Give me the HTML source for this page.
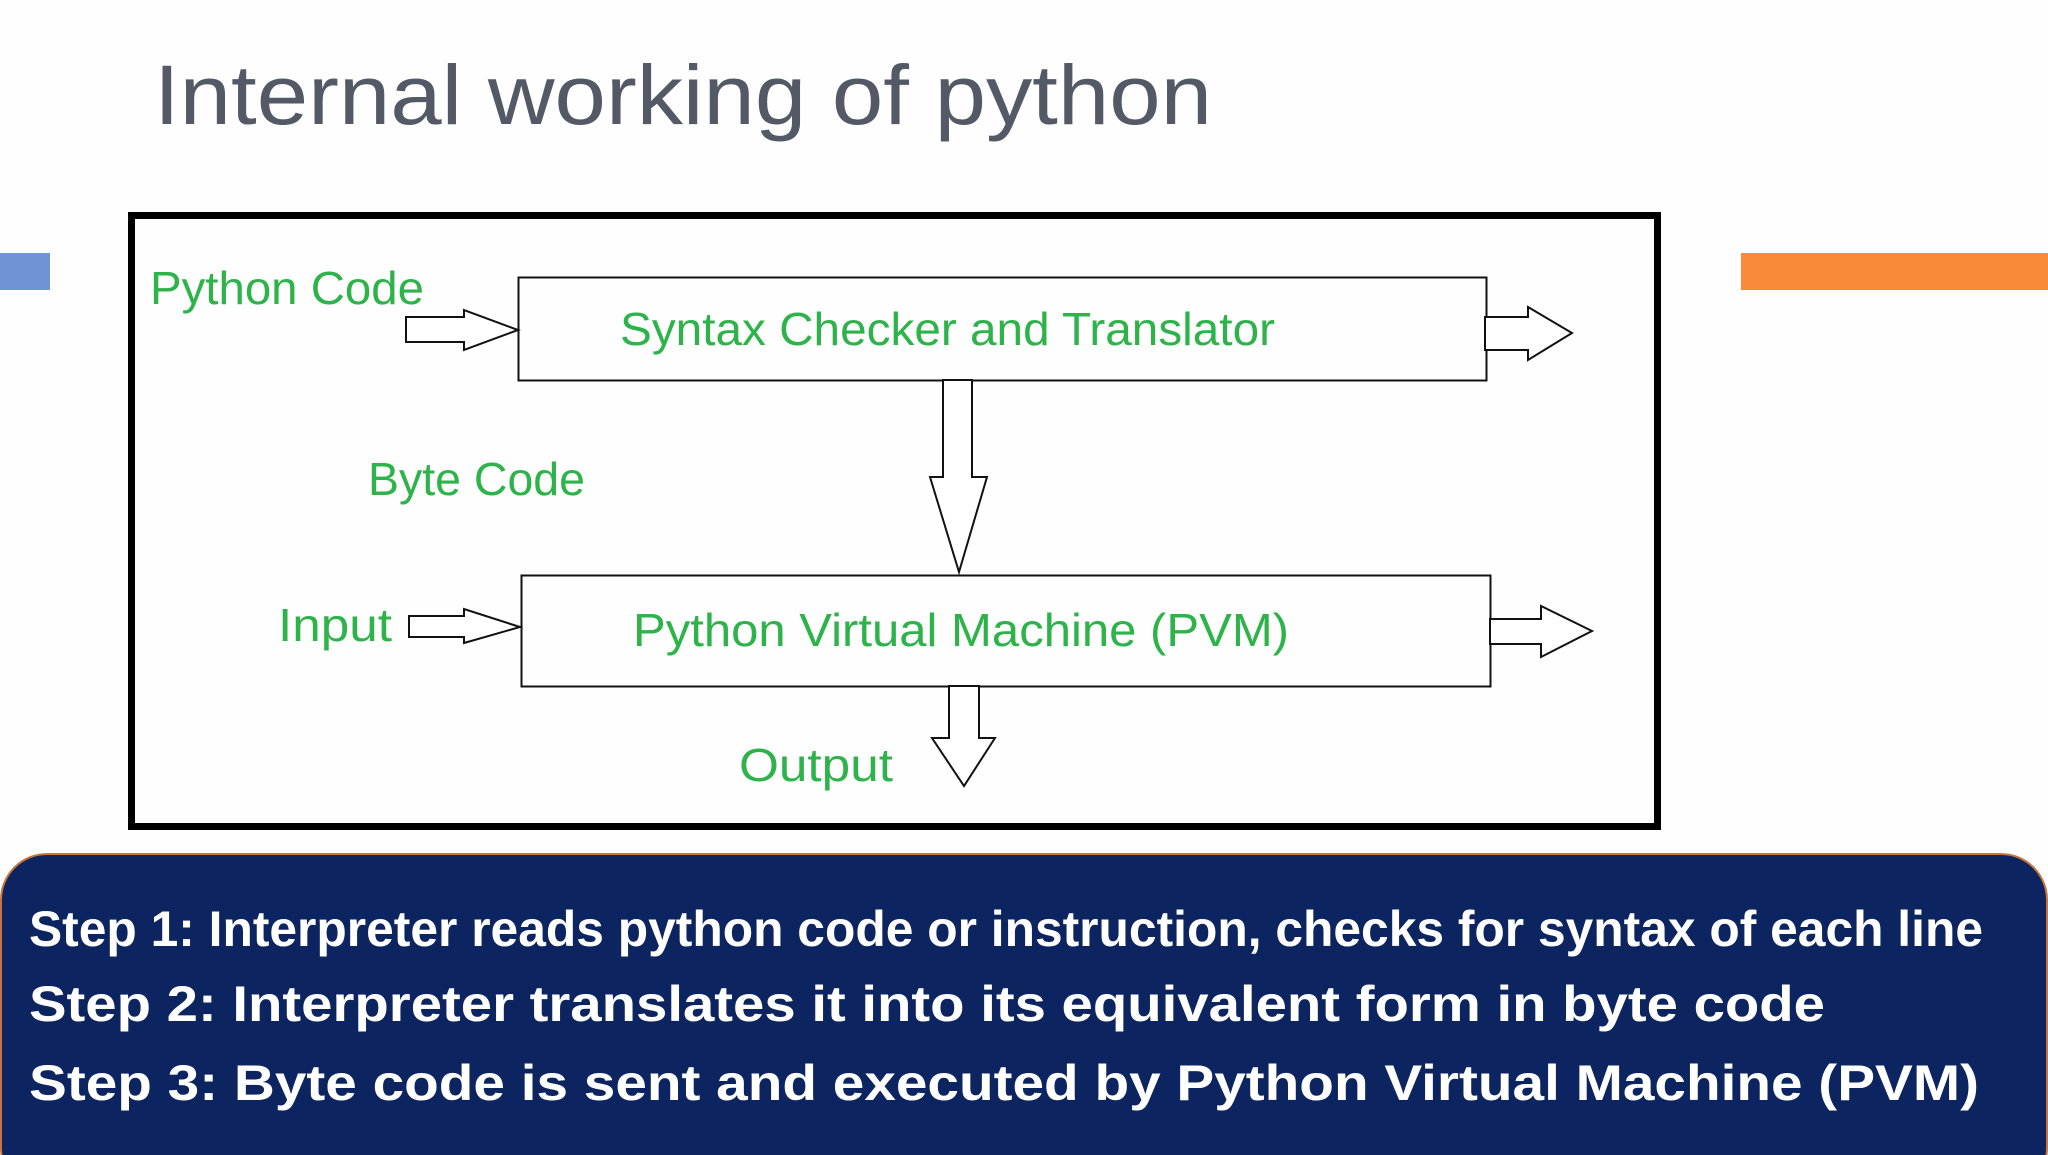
<!DOCTYPE html>
<html><head><meta charset="utf-8"><style>
html,body{margin:0;padding:0;background:#fefefe;}
svg{display:block;}
</style></head><body>
<svg width="2048" height="1155" viewBox="0 0 2048 1155" xmlns="http://www.w3.org/2000/svg">
<rect width="2048" height="1155" fill="#fefefe"/>
<text x="154" y="124" font-family="Liberation Sans, sans-serif" font-size="84" fill="#545966" textLength="1058" lengthAdjust="spacingAndGlyphs">Internal working of python</text>
<rect x="0" y="253" width="50" height="37" fill="#6f94d6"/>
<rect x="1741" y="253" width="307" height="37" fill="#f98a3a"/>
<rect x="131.5" y="215.5" width="1526" height="611" fill="none" stroke="#000" stroke-width="7"/>
<rect x="518.5" y="277.5" width="968" height="103" fill="none" stroke="#111" stroke-width="2"/>
<rect x="521.5" y="575.5" width="969" height="111" fill="none" stroke="#111" stroke-width="2"/>
<g fill="#fff" stroke="#111" stroke-width="2" stroke-linejoin="miter">
<polygon points="406,317 464,317 464,310 518,330 464,350 464,342 406,342"/>
<polygon points="1485,317 1528,317 1528,307 1572,333 1528,360 1528,350 1485,350"/>
<polygon points="943,380 972,380 972,477 987,477 959,572 930,477 943,477"/>
<polygon points="409,616 464,616 464,609 520,627 464,643 464,637 409,637"/>
<polygon points="1490,619 1541,619 1541,606 1592,631 1541,657 1541,644 1490,644"/>
<polygon points="949,686 979,686 979,738 995,738 964,786 932,738 949,738"/>
</g>
<g font-family="Liberation Sans, sans-serif" font-size="46" fill="#2db34a">
<text x="150" y="304" textLength="274" lengthAdjust="spacingAndGlyphs">Python Code</text>
<text x="620" y="345" textLength="655" lengthAdjust="spacingAndGlyphs">Syntax Checker and Translator</text>
<text x="368" y="495" textLength="217" lengthAdjust="spacingAndGlyphs">Byte Code</text>
<text x="278" y="641" textLength="114" lengthAdjust="spacingAndGlyphs">Input</text>
<text x="633" y="646" textLength="656" lengthAdjust="spacingAndGlyphs">Python Virtual Machine (PVM)</text>
<text x="739" y="781" textLength="154" lengthAdjust="spacingAndGlyphs">Output</text>
</g>
<rect x="1" y="854" width="2046" height="340" rx="46" ry="46" fill="#0c2560" stroke="#c8743a" stroke-width="2"/>
<g font-family="Liberation Sans, sans-serif" font-weight="bold" font-size="50" fill="#fff">
<text x="29" y="946" textLength="1954" lengthAdjust="spacingAndGlyphs">Step 1: Interpreter reads python code or instruction, checks for syntax of each line</text>
<text x="29" y="1021" textLength="1796" lengthAdjust="spacingAndGlyphs">Step 2: Interpreter translates it into its equivalent form in byte code</text>
<text x="29" y="1100" textLength="1950" lengthAdjust="spacingAndGlyphs">Step 3: Byte code is sent and executed by Python Virtual Machine (PVM)</text>
</g>
</svg>
</body></html>
